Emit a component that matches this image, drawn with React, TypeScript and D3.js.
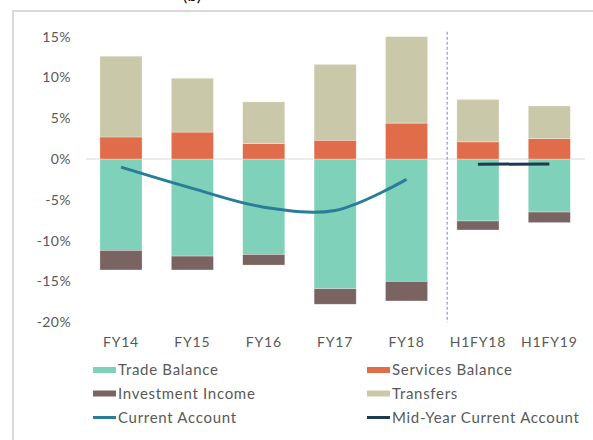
import React, { useEffect, useRef } from 'react'
import * as d3 from 'd3'

const categories = ['FY14', 'FY15', 'FY16', 'FY17', 'FY18', 'H1FY18', 'H1FY19']
const tradeBalance = [-11.2, -11.9, -11.7, -15.9, -15.0, -7.6, -6.5]
const servicesBalance = [2.7, 3.3, 1.9, 2.3, 4.4, 2.1, 2.5]
const investmentIncome = [-2.4, -1.7, -1.3, -1.9, -2.4, -1.1, -1.3]
const transfers = [9.9, 6.6, 5.1, 9.3, 10.6, 5.2, 4.0]
const currentAccountCats = ['FY14', 'FY15', 'FY16', 'FY17', 'FY18']
const currentAccount = [-1.0, -3.6, -5.9, -6.3, -2.5]
const midYearCats = ['H1FY18', 'H1FY19']
const midYearAccount = [-0.65, -0.6]
const yTicks = [15, 10, 5, 0, -5, -10, -15, -20]

const seriesKeys = ['trade', 'services', 'investment', 'transfers']
const seriesNames = ['Trade Balance', 'Services Balance', 'Investment Income', 'Transfers']
const seriesColors = ['#7fd1b9', '#e06c4a', '#7a6461', '#c9c9a9']
const lineColors = { current: '#2a7d99', midYear: '#1e3a4f' }

const W = 593
const H = 440
const FONT = 'Lato, "Noto Sans", sans-serif'
const TEXT = '#595959'

export default function App() {
  const svgRef = useRef<SVGSVGElement>(null)

  useEffect(() => {
    if (!svgRef.current) return
    const svg = d3.select(svgRef.current)
    svg.selectAll('*').remove()

    const x = d3.scaleBand<string>()
      .domain(categories)
      .range([85.3, 585])
      .paddingInner(0.41)
      .paddingOuter(0.205)
    const y = d3.scaleLinear().domain([-20, 15]).range([322.2, 36.6])
    const bw = x.bandwidth()

    // frame
    svg.append('rect')
      .attr('x', 13).attr('y', 11)
      .attr('width', 620).attr('height', 480)
      .attr('fill', 'none')
      .attr('stroke', '#d9d9d9')
      .attr('stroke-width', 2)

    // heading cut off by the top edge, as in the source
    svg.append('text')
      .attr('x', 192).attr('y', 1)
      .attr('text-anchor', 'middle')
      .attr('font-family', FONT)
      .attr('font-size', 18)
      .attr('fill', '#111')
      .text('(b)')

    // y tick labels
    svg.append('g').selectAll('text')
      .data(yTicks)
      .enter().append('text')
      .attr('x', 71)
      .attr('y', d => y(d))
      .attr('dy', '0.35em')
      .attr('text-anchor', 'end')
      .attr('font-family', FONT)
      .attr('font-size', 14)
      .attr('letter-spacing', 0.4)
      .attr('fill', TEXT)
      .text(d => `${d}%`)

    // zero line
    svg.append('line')
      .attr('x1', 86).attr('x2', 585)
      .attr('y1', y(0)).attr('y2', y(0))
      .attr('stroke', '#d9d9d9')
      .attr('stroke-width', 1)

    // stacked bars
    const rows = categories.map((c, i) => ({
      cat: c,
      trade: tradeBalance[i],
      services: servicesBalance[i],
      investment: investmentIncome[i],
      transfers: transfers[i],
    }))
    const stacked = d3.stack<any>()
      .keys(seriesKeys)
      .offset(d3.stackOffsetDiverging)(rows)

    stacked.forEach((layer, li) => {
      svg.append('g').selectAll('rect')
        .data(layer)
        .enter().append('rect')
        .attr('x', d => x(d.data.cat) as number)
        .attr('width', bw)
        .attr('y', d => y(Math.max(d[0], d[1])))
        .attr('height', d => Math.abs(y(d[0]) - y(d[1])))
        .attr('fill', seriesColors[li])
        .attr('stroke', 'rgba(255,255,255,0.5)')
        .attr('stroke-width', 0.6)
    })

    // separator between annual and half-year data
    const sepX = (x('H1FY18') as number) - x.step() * 0.135
    svg.append('line')
      .attr('x1', sepX).attr('x2', sepX)
      .attr('y1', y(15.6)).attr('y2', y(-20))
      .attr('stroke', '#a7b2cb')
      .attr('stroke-width', 1.5)
      .attr('stroke-dasharray', '3,2')

    // current account line
    const cx = (c: string) => (x(c) as number) + bw / 2
    const caLine = d3.line<number>()
      .x((_, i) => cx(currentAccountCats[i]))
      .y(d => y(d))
      .curve(d3.curveCatmullRom.alpha(0.5))
    svg.append('path')
      .attr('d', caLine(currentAccount))
      .attr('fill', 'none')
      .attr('stroke', lineColors.current)
      .attr('stroke-width', 3)

    const myLine = d3.line<number>()
      .x((_, i) => cx(midYearCats[i]))
      .y(d => y(d))
    svg.append('path')
      .attr('d', myLine(midYearAccount))
      .attr('fill', 'none')
      .attr('stroke', lineColors.midYear)
      .attr('stroke-width', 3)

    // x labels
    svg.append('g').selectAll('text')
      .data(categories)
      .enter().append('text')
      .attr('x', d => cx(d))
      .attr('y', 342)
      .attr('dy', '0.35em')
      .attr('text-anchor', 'middle')
      .attr('font-family', FONT)
      .attr('font-size', 14)
      .attr('letter-spacing', 0.8)
      .attr('fill', TEXT)
      .text(d => d)

    // legend
    const legendItems = [
      { name: seriesNames[0], color: seriesColors[0], type: 'bar' },
      { name: seriesNames[1], color: seriesColors[1], type: 'bar' },
      { name: seriesNames[2], color: seriesColors[2], type: 'bar' },
      { name: seriesNames[3], color: seriesColors[3], type: 'bar' },
      { name: 'Current Account', color: lineColors.current, type: 'line' },
      { name: 'Mid-Year Current Account', color: lineColors.midYear, type: 'line' },
    ]
    const colX = [93, 367]
    const rowY = [370, 393.5, 417.5]
    const lg = svg.append('g').selectAll('g')
      .data(legendItems)
      .enter().append('g')
      .attr('transform', (_, i) => `translate(${colX[i % 2]},${rowY[Math.floor(i / 2)]})`)
    lg.each(function (d) {
      const g = d3.select(this)
      if (d.type === 'bar') {
        g.append('rect').attr('x', 0).attr('y', -3).attr('width', 23).attr('height', 6).attr('fill', d.color)
      } else {
        g.append('line').attr('x1', 0).attr('x2', 23).attr('y1', 0).attr('y2', 0)
          .attr('stroke', d.color).attr('stroke-width', 3)
      }
    })
    lg.append('text')
      .attr('x', 25)
      .attr('y', 0)
      .attr('dy', '0.35em')
      .attr('font-family', FONT)
      .attr('font-size', 15)
      .attr('letter-spacing', 0.7)
      .attr('fill', TEXT)
      .text(d => d.name)
  }, [])

  return (
    <svg
      ref={svgRef}
      width={W}
      height={H}
      style={{ position: 'absolute', left: 0, top: 0, background: '#fff' }}
    />
  )
}
